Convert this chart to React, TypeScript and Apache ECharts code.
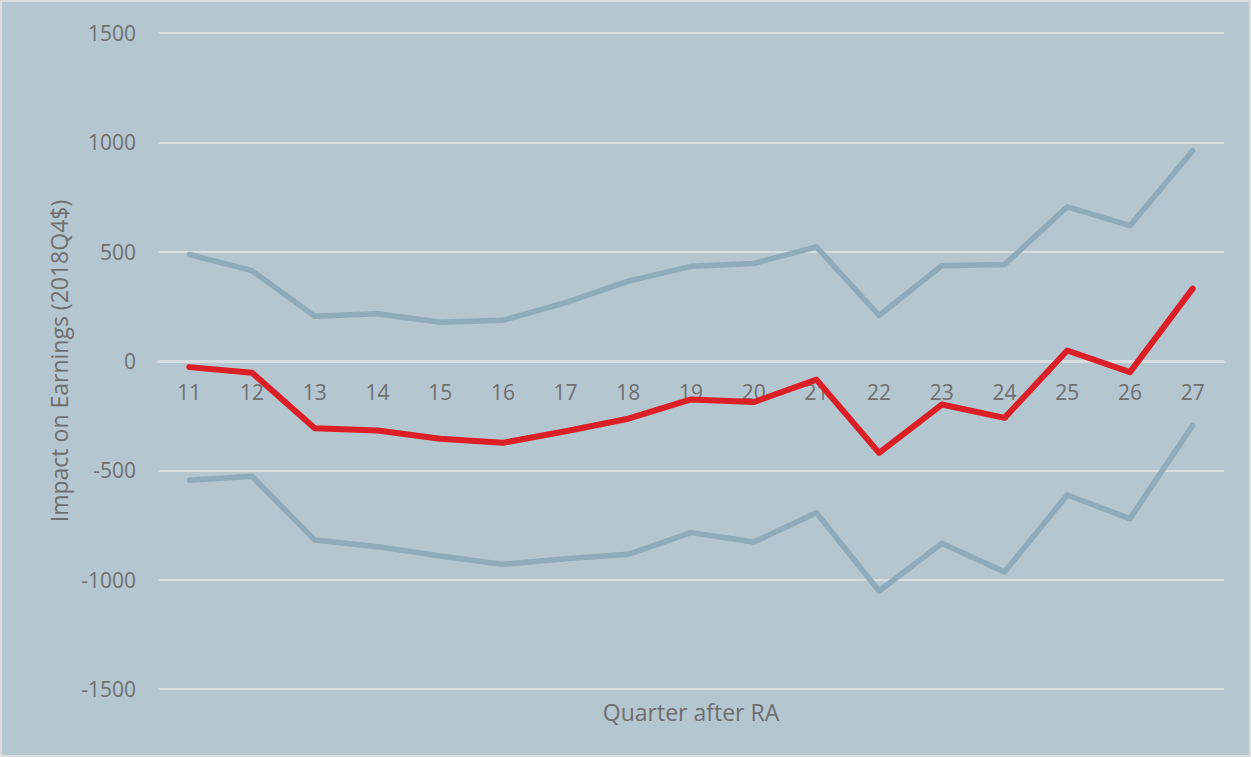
import React, { useEffect, useRef } from "react";
import * as echarts from "echarts";

const quarters = ["11", "12", "13", "14", "15", "16", "17", "18", "19", "20", "21", "22", "23", "24", "25", "26", "27"];
const upperBound = [487, 413, 205, 216, 177, 186, 267, 365, 433, 446, 522, 208, 436, 441, 705, 619, 962];
const estimate = [-28, -54, -308, -318, -356, -374, -321, -264, -176, -188, -85, -420, -199, -260, 48, -51, 331];
const lowerBound = [-545, -527, -819, -849, -892, -930, -904, -884, -785, -828, -694, -1052, -834, -965, -613, -721, -295];

const FONT = "'Open Sans', 'Noto Sans', sans-serif";
const TXT = "#6f6f6f";
const BAND = "#8eaabb";
const RED = "#dc1f26";

export default function App() {
  const ref = useRef<HTMLDivElement>(null);
  useEffect(() => {
    if (!ref.current) return;
    const chart = echarts.init(ref.current, null, { renderer: "svg" });
    chart.setOption({
      animation: false,
      backgroundColor: "#b4c6cf",
      grid: { left: 156, right: 25, top: 31, bottom: 66, containLabel: false },
      xAxis: {
        type: "category",
        data: quarters,
        boundaryGap: true,
        offset: -327.5,
        axisLine: { show: true, onZero: false, lineStyle: { color: "#d9dde0", width: 2 } },
        axisTick: { show: false },
        axisLabel: { color: TXT, fontSize: 21, fontFamily: FONT, margin: 20 },
        splitLine: { show: false },
      },
      yAxis: {
        type: "value",
        min: -1500,
        max: 1500,
        interval: 500,
        name: "Impact on Earnings (2018Q4$)",
        nameLocation: "middle",
        nameRotate: 90,
        nameGap: 88,
        nameTextStyle: { color: TXT, fontSize: 23, fontFamily: FONT },
        axisLine: { show: false },
        axisTick: { show: false },
        axisLabel: { color: TXT, fontSize: 21, fontFamily: FONT, margin: 22, formatter: (v: number) => String(v) },
        splitLine: { show: true, lineStyle: { color: "#d9dde0", width: 2 } },
      },
      graphic: [
        {
          type: "text",
          x: 689,
          y: 710,
          style: { text: "Quarter after RA", fill: TXT, font: `23px ${FONT}`, textAlign: "center", textVerticalAlign: "middle" },
        },
      ],
      series: [
        {
          type: "line",
          data: upperBound,
          symbol: "none",
          lineStyle: { color: BAND, width: 5.5, cap: "round", join: "round" },
          z: 2,
        },
        {
          type: "line",
          data: lowerBound,
          symbol: "none",
          lineStyle: { color: BAND, width: 5.5, cap: "round", join: "round" },
          z: 2,
        },
        {
          type: "line",
          data: estimate,
          symbol: "none",
          lineStyle: { color: RED, width: 6, cap: "round", join: "round" },
          z: 3,
        },
      ],
    });
    return () => chart.dispose();
  }, []);
  return (
    <div
      ref={ref}
      style={{
        position: "absolute",
        left: 0,
        top: 0,
        width: 1251,
        height: 757,
        boxSizing: "border-box",
        border: "2px solid #dcdcdc",
      }}
    />
  );
}
